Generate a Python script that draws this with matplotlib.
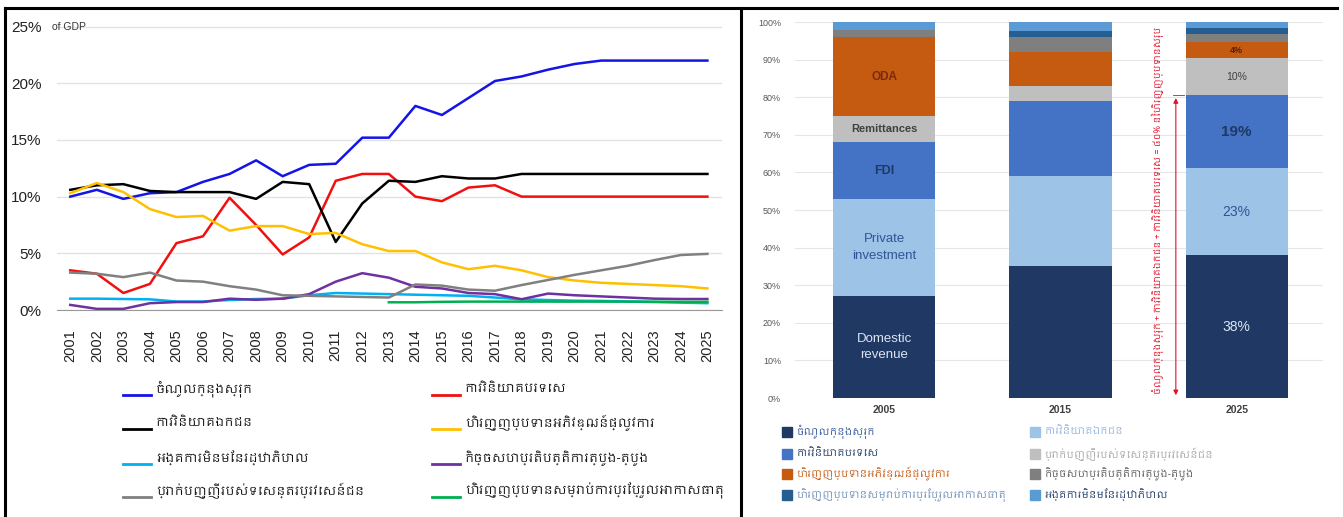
import matplotlib
matplotlib.use("Agg")
import matplotlib.pyplot as plt
from matplotlib.lines import Line2D
from matplotlib.patches import Rectangle
from matplotlib import font_manager
import numpy as np

plt.rcParams["font.family"] = ["Liberation Sans", "DejaVu Sans"]

# fonts that could carry Khmer glyphs, if any are installed
khmer_cands = [f.name for f in font_manager.fontManager.ttflist if "khmer" in f.name.lower()]
KH = list(dict.fromkeys(khmer_cands)) + ["Noto Sans", "DejaVu Sans"]

# ---------------- left panel data (% of GDP) ----------------
years = list(range(2001, 2026))
domestic = [10.0, 10.6, 9.8, 10.3, 10.4, 11.3, 12.0, 13.2, 11.8, 12.8, 12.9, 15.2, 15.2,
            18.0, 17.2, 18.7, 20.2, 20.6, 21.2, 21.7, 22.0, 22.0, 22.0, 22.0, 22.0]
fdi = [3.5, 3.2, 1.5, 2.3, 5.9, 6.5, 9.9, 7.5, 4.9, 6.4, 11.4, 12.0, 12.0,
       10.0, 9.6, 10.8, 11.0, 10.0, 10.0, 10.0, 10.0, 10.0, 10.0, 10.0, 10.0]
private = [10.6, 11.0, 11.1, 10.5, 10.4, 10.4, 10.4, 9.8, 11.3, 11.1, 6.0, 9.4, 11.4,
           11.3, 11.8, 11.6, 11.6, 12.0, 12.0, 12.0, 12.0, 12.0, 12.0, 12.0, 12.0]
oda = [10.3, 11.2, 10.4, 8.9, 8.2, 8.3, 7.0, 7.4, 7.4, 6.7, 6.8, 5.8, 5.2,
       5.2, 4.2, 3.6, 3.9, 3.5, 2.9, 2.6, 2.4, 2.3, 2.2, 2.1, 1.9]
ngo = [1.0, 1.0, 0.97, 0.94, 0.75, 0.75, 0.88, 0.97, 1.0, 1.3, 1.5, 1.45, 1.4,
       1.35, 1.3, 1.25, 1.1, 0.94, 0.88, 0.82, 0.8, 0.75, 0.7, 0.65, 0.6]
south = [0.45, 0.1, 0.1, 0.6, 0.7, 0.7, 1.0, 0.9, 1.0, 1.4, 2.5, 3.25, 2.85,
         2.05, 1.9, 1.5, 1.4, 0.95, 1.45, 1.3, 1.2, 1.1, 1.0, 0.97, 0.97]
remit = [3.3, 3.2, 2.9, 3.3, 2.6, 2.5, 2.1, 1.8, 1.3, 1.25, 1.2, 1.15, 1.1,
         2.25, 2.15, 1.8, 1.7, 2.2, 2.65, 3.1, 3.5, 3.9, 4.4, 4.85, 4.95]
climate_years = list(range(2013, 2026))
climate = [0.68, 0.68, 0.72, 0.74, 0.74, 0.74, 0.74, 0.74, 0.74, 0.74, 0.73, 0.72, 0.72]

line_labels = ["ចំណូលក្នុងស្រុក", "ការវិនិយោគបរទេស",
               "ការវិនិយោគឯកជន", "ហិរញ្ញប្បទានអភិវឌ្ឍន៍ផ្លូវការ",
               "អង្គការមិនមែនរដ្ឋាភិបាល", "កិច្ចសហប្រតិបត្តិការត្បូង-ត្បូង",
               "ប្រាក់បញ្ញើរបស់ទេសន្តរប្រវេសន៍ជន", "ហិរញ្ញប្បទានសម្រាប់ការប្រែប្រួលអាកាសធាតុ"]
line_colors = ["#1414E6", "#F01010", "#000000", "#FFC000",
               "#00B0F0", "#7030A0", "#808080", "#00B050"]

# ---------------- right panel data (share of total financing, %) ----------------
bar_years = ["2005", "2015", "2025"]
s_domestic = [27, 35, 38]
s_private = [26, 24, 23.1]
s_fdi = [15, 20, 19.4]
s_remit = [7, 4, 9.8]
s_oda = [21, 9, 4.4]
s_south = [2, 4, 2.0]
s_climate = [0, 1.5, 1.7]
s_ngo = [2, 2.5, 1.6]
bar_colors = ["#1F3864", "#9DC3E6", "#4472C4", "#BFBFBF",
              "#C55A11", "#7F7F7F", "#255E91", "#5B9BD5"]
bar_legend = ["ចំណូលក្នុងស្រុក", "ការវិនិយោគឯកជន",
              "ការវិនិយោគបរទេស", "ប្រាក់បញ្ញើរបស់ទេសន្តរប្រវេសន៍ជន",
              "ហិរញ្ញប្បទានអភិវឌ្ឍន៍ផ្លូវការ", "កិច្ចសហប្រតិបត្តិការត្បូង-ត្បូង",
              "ហិរញ្ញប្បទានសម្រាប់ការប្រែប្រួលអាកាសធាតុ", "អង្គការមិនមែនរដ្ឋាភិបាល"]

W, H = 1343, 517
fig = plt.figure(figsize=(W / 100, H / 100), dpi=100)
fig.patch.set_facecolor("white")

def fx(px): return px / W
def fy(py): return 1 - py / H

# ---------------- left: line chart ----------------
ax = fig.add_axes([fx(57), fy(310), fx(722) - fx(57), fy(26) - fy(310)])
series = [domestic, fdi, private, oda, ngo, south, remit]
for vals, c in zip(series, line_colors[:7]):
    ax.plot(years, vals, color=c, lw=1.8, solid_joinstyle="round")
ax.plot(climate_years, climate, color=line_colors[7], lw=1.8)
ax.set_xlim(2000.5, 2025.55)
ax.set_ylim(0, 25.05)
ax.set_yticks([0, 5, 10, 15, 20, 25])
ax.set_yticklabels(["0%", "5%", "10%", "15%", "20%", "25%"], fontsize=11, color="#222222")
ax.set_xticks(years)
ax.set_xticklabels([str(y) for y in years], rotation=90, fontsize=10.5, color="#222222")
ax.tick_params(length=0, axis="y", pad=11)
ax.tick_params(length=0, axis="x", pad=14)
ax.grid(axis="y", color="#E3E3E3", lw=1)
for s in ["top", "right", "left"]:
    ax.spines[s].set_visible(False)
ax.spines["bottom"].set_color("#999999")
ax.set_axisbelow(True)
fig.text(fx(52), fy(27), "of GDP", fontsize=7.5, color="#333333", va="center", ha="left")

# legend (left panel)
rows_y = [389, 423, 458, 491]
for i, (lab, c) in enumerate(zip(line_labels, line_colors)):
    col, row = i % 2, i // 2
    x0 = 123 if col == 0 else 432
    y = rows_y[row]
    fig.add_artist(Line2D([fx(x0), fx(x0 + 28)], [fy(y + 6), fy(y + 6)], color=c, lw=2))
    fig.text(fx(x0 + 33), fy(y), lab, fontsize=8.8, family=KH, va="center", ha="left", color="#111111")

# ---------------- right: stacked bars ----------------
bx = fig.add_axes([fx(795), fy(398), fx(1323) - fx(795), fy(22) - fy(398)])
xpos = np.arange(len(bar_years))
stack = [s_domestic, s_private, s_fdi, s_remit, s_oda, s_south, s_climate, s_ngo]
bottom = np.zeros(len(bar_years))
for vals, c in zip(stack, bar_colors):
    bx.bar(xpos, vals, bottom=bottom, width=0.58, color=c, edgecolor="none")
    bottom += np.array(vals)
bx.set_xlim(-0.506, 2.49)
bx.set_ylim(0, 100)
bx.set_yticks(np.arange(0, 101, 10))
bx.set_yticklabels([f"{v}%" for v in range(0, 101, 10)], fontsize=6.5, color="#595959")
bx.set_xticks(xpos)
bx.set_xticklabels(bar_years, fontsize=7.5, color="#404040", fontweight="bold")
bx.tick_params(length=0, axis="y", pad=10)
bx.tick_params(length=0, axis="x", pad=5)
bx.grid(axis="y", color="#E6E6E6", lw=0.8)
bx.set_axisbelow(True)
for s in bx.spines.values():
    s.set_visible(False)

# labels inside the 2005 bar
cum = np.cumsum([v[0] for v in stack])
mid = lambda k: cum[k] - stack[k][0] / 2
bx.text(0, mid(0), "Domestic\nrevenue", ha="center", va="center", fontsize=9.5, color="#DCE6F2", linespacing=1.5)
bx.text(0, mid(1), "Private\ninvestment", ha="center", va="center", fontsize=9.5, color="#2F5597", linespacing=1.5)
bx.text(0, mid(2), "FDI", ha="center", va="center", fontsize=9, color="#1F3864", fontweight="bold")
bx.text(0, mid(3), "Remittances", ha="center", va="center", fontsize=8, color="#404040", fontweight="bold")
bx.text(0, mid(4), "ODA", ha="center", va="center", fontsize=8.5, color="#7B2A0A", fontweight="bold")

# value labels inside the 2025 bar
cum25 = np.cumsum([v[2] for v in stack])
lab_specs = [(0, "#DCE6F2", 10), (1, "#2F5597", 10), (2, "#1F3864", 11), (3, "#404040", 7.5), (4, "#5A1E05", 6.5)]
for k, c, fs in lab_specs:
    v = stack[k][2]
    bx.text(2, cum25[k] - v / 2, f"{v:.0f}%", ha="center", va="center", fontsize=fs, color=c,
            fontweight="bold" if k in (2, 4) else "normal")

# red bracket: first three sources = ~80%
top3 = s_domestic[2] + s_private[2] + s_fdi[2]
bx.annotate("", xy=(1.655, top3), xytext=(1.655, 0),
            arrowprops=dict(arrowstyle="<|-|>", color="#E0102A", lw=0.8, mutation_scale=7))
bx.plot([1.64, 1.7], [top3, top3], color="#E0102A", lw=0.6)
bx.text(1.555, 50, "ចំណូលក្នុងស្រុក + ការវិនិយោគឯកជន + ការវិនិយោគបរទេស = ៨០% នៃហិរញ្ញប្បទានសរុប",
        rotation=90, ha="center", va="center", fontsize=6.5, color="#E0102A", family=KH)

# legend (right panel)
rrows = [432, 454, 474, 495]
leg_text_cols = ["#2F5597", "#8FB4DE", "#1F3864", "#A6A6A6", "#C55A11", "#595959", "#6F8FB8", "#1F3864"]
for i, (lab, c, tc) in enumerate(zip(bar_legend, bar_colors, leg_text_cols)):
    col, row = i % 2, i // 2
    x0 = 782 if col == 0 else 1030
    y = rrows[row]
    fig.add_artist(Rectangle((fx(x0), fy(y + 5)), fx(10), 10 / H, color=c, transform=fig.transFigure))
    fig.text(fx(x0 + 14), fy(y), lab, fontsize=7.1, family=KH, va="center", ha="left", color=tc)

# frame lines around the two panels
blk = dict(color="black", lw=2.2, transform=fig.transFigure)
fig.add_artist(Line2D([fx(5), fx(1337)], [fy(8), fy(8)], **blk))
fig.add_artist(Line2D([fx(5), fx(5)], [fy(8), 0], **blk))
fig.add_artist(Line2D([fx(741), fx(741)], [fy(8), 0], **blk))

fig.savefig("out.png", dpi=100, facecolor="white")
